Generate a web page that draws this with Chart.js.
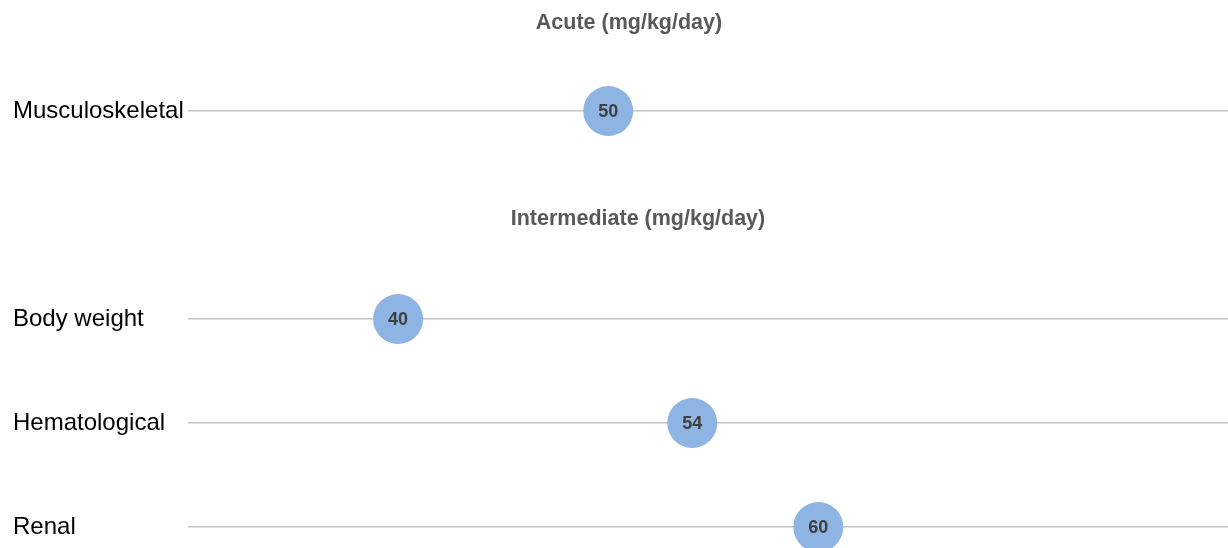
<!DOCTYPE html>
<html>
<head>
<meta charset="utf-8">
<script src="https://cdn.jsdelivr.net/npm/chart.js@4"></script>
<style>
  html, body { margin: 0; padding: 0; background: #ffffff; overflow: hidden; }
  #wrap { width: 1228px; height: 548px; position: relative; }
</style>
</head>
<body>
<div id="wrap"><canvas id="c"></canvas></div>
<script>
// ---- data ----
const sectionTitles = ["Acute (mg/kg/day)", "Intermediate (mg/kg/day)"];
const acuteCategories = ["Musculoskeletal"];
const acuteValues = [50];
const intermediateCategories = ["Body weight", "Hematological", "Renal"];
const intermediateValues = [40, 54, 60];
const xMin = 30;
const xMax = 79.5;

// rows on the y axis (section header row for Intermediate sits between)
const rowLabels = [...acuteCategories, sectionTitles[1], ...intermediateCategories];
const points = [
  ...acuteCategories.map((c, i) => ({ x: acuteValues[i], y: c })),
  ...intermediateCategories.map((c, i) => ({ x: intermediateValues[i], y: c }))
];

const FONT = "'Liberation Sans', Arial, sans-serif";

const labelPlugin = {
  id: 'labels',
  afterDatasetsDraw(chart) {
    const ctx = chart.ctx;
    const meta = chart.getDatasetMeta(0);
    ctx.save();
    ctx.font = "bold 18px " + FONT;
    ctx.fillStyle = '#404040';
    ctx.textAlign = 'center';
    ctx.textBaseline = 'middle';
    meta.data.forEach((el, i) => {
      ctx.fillText(String(points[i].x), el.x, el.y + 1);
    });
    ctx.restore();
  },
  afterDraw(chart) {
    const ctx = chart.ctx;
    const y = chart.scales.y;
    ctx.save();
    ctx.font = "bold 21.5px " + FONT;
    ctx.fillStyle = '#595959';
    ctx.textAlign = 'center';
    ctx.textBaseline = 'middle';
    const topRow = y.getPixelForValue(0);
    ctx.fillText(sectionTitles[0], 629, topRow - 88);
    ctx.fillText(sectionTitles[1], 638, y.getPixelForValue(rowLabels.indexOf(sectionTitles[1])) + 4);
    ctx.restore();
  }
};

new Chart(document.getElementById('c'), {
  type: 'scatter',
  data: {
    labels: rowLabels,
    datasets: [{
      data: points,
      pointRadius: 25,
      pointHoverRadius: 25,
      pointBackgroundColor: '#8db4e2',
      pointBorderWidth: 0,
      pointBorderColor: 'rgba(0,0,0,0)',
      clip: false
    }]
  },
  options: {
    responsive: true,
    maintainAspectRatio: false,
    animation: false,
    devicePixelRatio: 1,
    layout: { autoPadding: false, padding: { top: 111, bottom: 21, left: 13, right: 0 } },
    plugins: { legend: { display: false }, tooltip: { enabled: false } },
    scales: {
      x: {
        type: 'linear',
        min: xMin,
        max: xMax,
        display: false
      },
      y: {
        type: 'category',
        labels: rowLabels,
        offset: false,
        border: { display: false },
        grid: {
          drawTicks: false,
          lineWidth: 1.5,
          color: (ctx) => (rowLabels[ctx.index] === sectionTitles[1] ? 'rgba(0,0,0,0)' : '#c4c4c4')
        },
        ticks: {
          crossAlign: 'far',
          color: '#000000',
          font: { family: FONT, size: 24 },
          padding: 0,
          callback: function (v, i) {
            const l = rowLabels[i];
            return l === sectionTitles[1] ? '' : l;
          }
        },
        afterFit(scale) { scale.width = 175; }
      }
    }
  },
  plugins: [labelPlugin]
});
</script>
</body>
</html>
